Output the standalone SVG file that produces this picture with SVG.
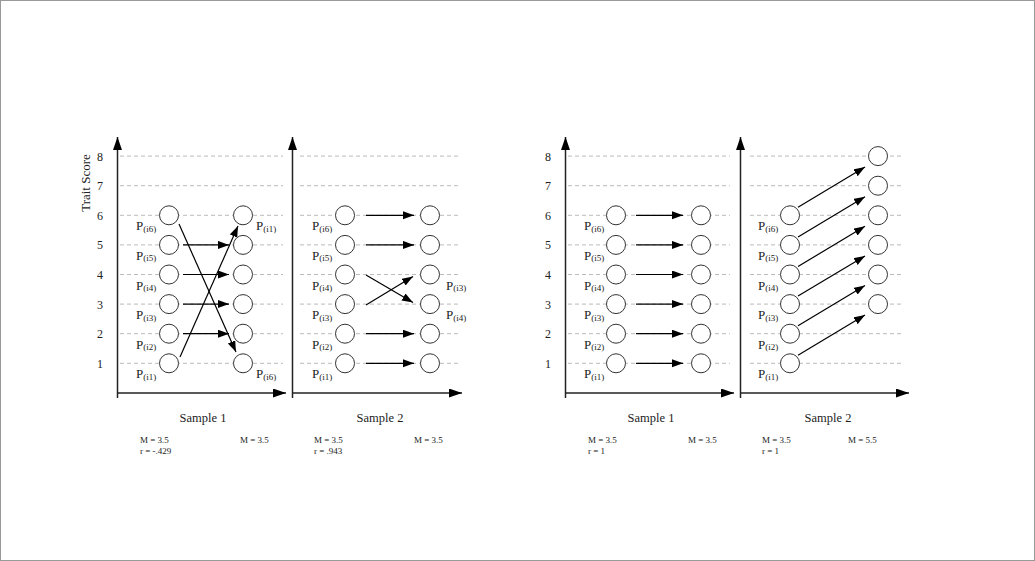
<svg xmlns="http://www.w3.org/2000/svg" width="1035" height="561" viewBox="0 0 1035 561">
<defs>
<marker id="ah" markerUnits="userSpaceOnUse" markerWidth="12" markerHeight="9" refX="11" refY="4" orient="auto">
<path d="M0,0 L11,4 L0,8 z" fill="#000"/>
</marker>
<marker id="axh" markerUnits="userSpaceOnUse" markerWidth="14" markerHeight="10" refX="13" refY="4.5" orient="auto">
<path d="M0,0 L13,4.5 L0,9 z" fill="#000"/>
</marker>
</defs>
<style>
.bg{fill:#fff;stroke:#999;stroke-width:1}
.grid{stroke:#bbb;stroke-width:1;stroke-dasharray:4,3}
.axis{stroke:#222;stroke-width:1.5;fill:none}
.node{fill:#fff;stroke:#333;stroke-width:1}
.arr{stroke:#000;stroke-width:1.2;fill:none;marker-end:url(#ah)}
.t{font-family:"Liberation Serif","Times New Roman",serif;fill:#222}
.tick{font-size:12px;text-anchor:middle}
.lab{font-size:13px}
.sub{font-size:9px}
.cap{font-size:12.5px;text-anchor:middle}
.stat{font-size:9px}
</style>
<rect class="bg" x="0.5" y="0.5" width="1034" height="560"/>

<g id="grid">
<path class="grid" d="M120,156.1H283 M120,185.7H283 M120,215.3H283 M120,244.9H283 M120,274.5H283 M120,304.1H283 M120,333.7H283 M120,363.3H283"/>
<path class="grid" d="M300,215.3H458 M300,244.9H458 M300,274.5H458 M300,304.1H458 M300,333.7H458 M300,363.3H458 M300,156.1H458 M300,185.7H458"/>
<path class="grid" d="M568,156.1H730 M568,185.7H730 M568,215.3H730 M568,244.9H730 M568,274.5H730 M568,304.1H730 M568,333.7H730 M568,363.3H730"/>
<path class="grid" d="M750,156.1H903 M750,185.7H903 M750,215.3H903 M750,244.9H903 M750,274.5H903 M750,304.1H903 M750,333.7H903 M750,363.3H903"/>
</g>

<g id="axes">
<path class="axis" d="M117.5,398V137" marker-end="url(#axh)"/>
<path class="axis" d="M117.5,393H286" marker-end="url(#axh)"/>
<path class="axis" d="M292.5,398V137" marker-end="url(#axh)"/>
<path class="axis" d="M292.5,393H462" marker-end="url(#axh)"/>
<path class="axis" d="M565.5,398V137" marker-end="url(#axh)"/>
<path class="axis" d="M565.5,393H734" marker-end="url(#axh)"/>
<path class="axis" d="M740.5,398V137" marker-end="url(#axh)"/>
<path class="axis" d="M740.5,393H909" marker-end="url(#axh)"/>
</g>

<g id="ticks" class="t tick">
<text x="100" y="160.6">8</text><text x="100" y="190.2">7</text><text x="100" y="219.8">6</text><text x="100" y="249.4">5</text><text x="100" y="279">4</text><text x="100" y="308.6">3</text><text x="100" y="338.2">2</text><text x="100" y="367.8">1</text>
<text x="548" y="160.6">8</text><text x="548" y="190.2">7</text><text x="548" y="219.8">6</text><text x="548" y="249.4">5</text><text x="548" y="279">4</text><text x="548" y="308.6">3</text><text x="548" y="338.2">2</text><text x="548" y="367.8">1</text>
</g>
<text class="t" font-size="13" text-anchor="middle" transform="translate(90,183) rotate(-90)">Trait Score</text>

<g id="connectors">
<path class="arr" d="M183,244.9H229"/>
<path class="arr" d="M183,274.5H229"/>
<path class="arr" d="M183,304.1H229"/>
<path class="arr" d="M183,333.7H229"/>
<path class="arr" d="M179,224L236,352"/>
<path class="arr" d="M180,357L238,226"/>
<path class="arr" d="M366,215.3H414"/>
<path class="arr" d="M366,244.9H414"/>
<path class="arr" d="M366,333.7H414"/>
<path class="arr" d="M366,363.3H414"/>
<path class="arr" d="M366,275L413,302.5"/>
<path class="arr" d="M366,305L413,276.5"/>
<path class="arr" d="M636,215.3H683"/>
<path class="arr" d="M636,244.9H683"/>
<path class="arr" d="M636,274.5H683"/>
<path class="arr" d="M636,304.1H683"/>
<path class="arr" d="M636,333.7H683"/>
<path class="arr" d="M636,363.3H683"/>
<path class="arr" d="M798,355.3L865,315.1"/>
<path class="arr" d="M798,325.7L865,285.5"/>
<path class="arr" d="M798,296.1L865,255.9"/>
<path class="arr" d="M798,266.5L865,226.3"/>
<path class="arr" d="M798,236.9L865,196.7"/>
<path class="arr" d="M798,207.3L865,167.1"/>
</g>

<g id="figA-p1-left">
<circle class="node" cx="169" cy="215.3" r="9.5"/><circle class="node" cx="169" cy="244.9" r="9.5"/><circle class="node" cx="169" cy="274.5" r="9.5"/><circle class="node" cx="169" cy="304.1" r="9.5"/><circle class="node" cx="169" cy="333.7" r="9.5"/><circle class="node" cx="169" cy="363.3" r="9.5"/>
</g>
<g id="figA-p1-right">
<circle class="node" cx="243" cy="215.3" r="9.5"/><circle class="node" cx="243" cy="244.9" r="9.5"/><circle class="node" cx="243" cy="274.5" r="9.5"/><circle class="node" cx="243" cy="304.1" r="9.5"/><circle class="node" cx="243" cy="333.7" r="9.5"/><circle class="node" cx="243" cy="363.3" r="9.5"/>
</g>
<g id="figA-p2-left">
<circle class="node" cx="345" cy="215.3" r="9.5"/><circle class="node" cx="345" cy="244.9" r="9.5"/><circle class="node" cx="345" cy="274.5" r="9.5"/><circle class="node" cx="345" cy="304.1" r="9.5"/><circle class="node" cx="345" cy="333.7" r="9.5"/><circle class="node" cx="345" cy="363.3" r="9.5"/>
</g>
<g id="figA-p2-right">
<circle class="node" cx="430" cy="215.3" r="9.5"/><circle class="node" cx="430" cy="244.9" r="9.5"/><circle class="node" cx="430" cy="274.5" r="9.5"/><circle class="node" cx="430" cy="304.1" r="9.5"/><circle class="node" cx="430" cy="333.7" r="9.5"/><circle class="node" cx="430" cy="363.3" r="9.5"/>
</g>
<g id="figB-p1-left">
<circle class="node" cx="616" cy="215.3" r="9.5"/><circle class="node" cx="616" cy="244.9" r="9.5"/><circle class="node" cx="616" cy="274.5" r="9.5"/><circle class="node" cx="616" cy="304.1" r="9.5"/><circle class="node" cx="616" cy="333.7" r="9.5"/><circle class="node" cx="616" cy="363.3" r="9.5"/>
</g>
<g id="figB-p1-right">
<circle class="node" cx="701" cy="215.3" r="9.5"/><circle class="node" cx="701" cy="244.9" r="9.5"/><circle class="node" cx="701" cy="274.5" r="9.5"/><circle class="node" cx="701" cy="304.1" r="9.5"/><circle class="node" cx="701" cy="333.7" r="9.5"/><circle class="node" cx="701" cy="363.3" r="9.5"/>
</g>
<g id="figB-p2-left">
<circle class="node" cx="790" cy="215.3" r="9.5"/><circle class="node" cx="790" cy="244.9" r="9.5"/><circle class="node" cx="790" cy="274.5" r="9.5"/><circle class="node" cx="790" cy="304.1" r="9.5"/><circle class="node" cx="790" cy="333.7" r="9.5"/><circle class="node" cx="790" cy="363.3" r="9.5"/>
</g>
<g id="figB-p2-right">
<circle class="node" cx="878" cy="156.1" r="9.5"/><circle class="node" cx="878" cy="185.7" r="9.5"/><circle class="node" cx="878" cy="215.3" r="9.5"/><circle class="node" cx="878" cy="244.9" r="9.5"/><circle class="node" cx="878" cy="274.5" r="9.5"/><circle class="node" cx="878" cy="304.1" r="9.5"/>
</g>

<g id="labels" class="t lab">
<text x="136" y="230.3">P<tspan class="sub" dy="1.5">(i6)</tspan></text>
<text x="136" y="259.9">P<tspan class="sub" dy="1.5">(i5)</tspan></text>
<text x="136" y="289.5">P<tspan class="sub" dy="1.5">(i4)</tspan></text>
<text x="136" y="319.1">P<tspan class="sub" dy="1.5">(i3)</tspan></text>
<text x="136" y="348.7">P<tspan class="sub" dy="1.5">(i2)</tspan></text>
<text x="136" y="378.3">P<tspan class="sub" dy="1.5">(i1)</tspan></text>
<text x="256" y="230.3">P<tspan class="sub" dy="1.5">(i1)</tspan></text>
<text x="256" y="378.3">P<tspan class="sub" dy="1.5">(i6)</tspan></text>
<text x="312" y="230.3">P<tspan class="sub" dy="1.5">(i6)</tspan></text>
<text x="312" y="259.9">P<tspan class="sub" dy="1.5">(i5)</tspan></text>
<text x="312" y="289.5">P<tspan class="sub" dy="1.5">(i4)</tspan></text>
<text x="312" y="319.1">P<tspan class="sub" dy="1.5">(i3)</tspan></text>
<text x="312" y="348.7">P<tspan class="sub" dy="1.5">(i2)</tspan></text>
<text x="312" y="378.3">P<tspan class="sub" dy="1.5">(i1)</tspan></text>
<text x="446" y="289.5">P<tspan class="sub" dy="1.5">(i3)</tspan></text>
<text x="446" y="319.1">P<tspan class="sub" dy="1.5">(i4)</tspan></text>
<text x="584" y="230.3">P<tspan class="sub" dy="1.5">(i6)</tspan></text>
<text x="584" y="259.9">P<tspan class="sub" dy="1.5">(i5)</tspan></text>
<text x="584" y="289.5">P<tspan class="sub" dy="1.5">(i4)</tspan></text>
<text x="584" y="319.1">P<tspan class="sub" dy="1.5">(i3)</tspan></text>
<text x="584" y="348.7">P<tspan class="sub" dy="1.5">(i2)</tspan></text>
<text x="584" y="378.3">P<tspan class="sub" dy="1.5">(i1)</tspan></text>
<text x="758" y="230.3">P<tspan class="sub" dy="1.5">(i6)</tspan></text>
<text x="758" y="259.9">P<tspan class="sub" dy="1.5">(i5)</tspan></text>
<text x="758" y="289.5">P<tspan class="sub" dy="1.5">(i4)</tspan></text>
<text x="758" y="319.1">P<tspan class="sub" dy="1.5">(i3)</tspan></text>
<text x="758" y="348.7">P<tspan class="sub" dy="1.5">(i2)</tspan></text>
<text x="758" y="378.3">P<tspan class="sub" dy="1.5">(i1)</tspan></text>
</g>

<g id="captions" class="t cap">
<text x="203" y="422">Sample 1</text>
<text x="380" y="422">Sample 2</text>
<text x="651" y="422">Sample 1</text>
<text x="828" y="422">Sample 2</text>
</g>

<g id="stats" class="t stat">
<text x="140" y="443">M = 3.5</text><text x="140" y="454">r = -.429</text>
<text x="240" y="443">M = 3.5</text>
<text x="314" y="443">M = 3.5</text><text x="314" y="454">r = .943</text>
<text x="414" y="443">M = 3.5</text>
<text x="588" y="443">M = 3.5</text><text x="588" y="454">r = 1</text>
<text x="688" y="443">M = 3.5</text>
<text x="762" y="443">M = 3.5</text><text x="762" y="454">r = 1</text>
<text x="848" y="443">M = 5.5</text>
</g>
</svg>
